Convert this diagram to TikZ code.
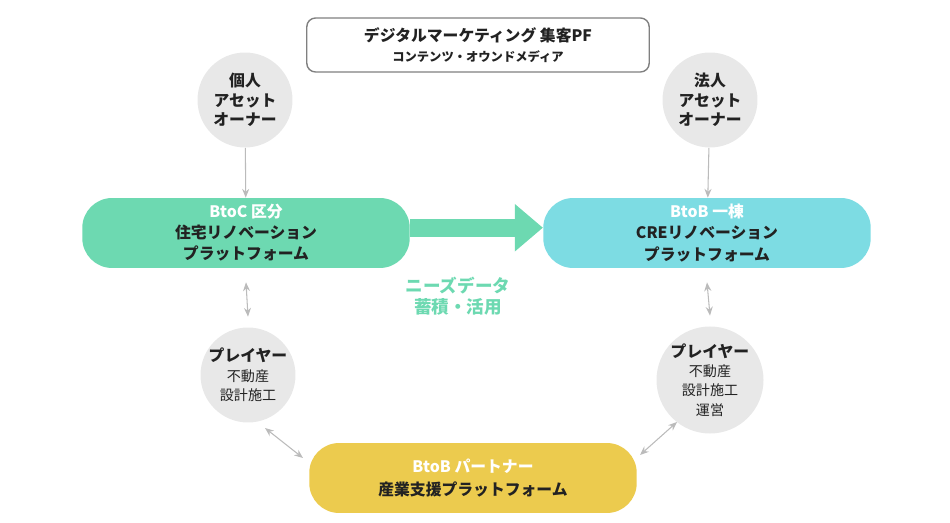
\documentclass[tikz,border=0pt]{standalone}
\usepackage{fontspec}
\setmainfont{Noto Sans CJK JP}
\usetikzlibrary{positioning,arrows.meta}
\definecolor{pfgreen}{HTML}{6DD9B1}
\definecolor{pfcyan}{HTML}{7DDCE3}
\definecolor{pfyellow}{HTML}{ECCB4E}
\definecolor{circgray}{HTML}{E8E8E8}
\definecolor{linegray}{HTML}{BBBBBB}
\definecolor{txtdark}{HTML}{222222}
\tikzset{
  pill/.style={rounded corners=17pt, minimum width=6.55cm, minimum height=1.4cm, align=center, text=txtdark, font=\bfseries\small},
  asset/.style={circle, fill=circgray, minimum size=1.9cm, align=center, text=txtdark, font=\bfseries\small, inner sep=0pt},
  link/.style={draw=linegray, line width=0.6pt, -{Stealth[length=5pt,width=4pt]}},
  twoway/.style={draw=linegray, line width=0.6pt, {Stealth[length=5pt,width=4pt]}-{Stealth[length=5pt,width=4pt]}}
}
\begin{document}
\begin{tikzpicture}[x=0.02cm,y=-0.02cm]
   \useasboundingbox (0,0) rectangle (950,523);
   \node[draw=gray, line width=0.8pt, rounded corners=5pt, minimum width=6.85cm, minimum height=1.08cm, align=center, text=txtdark] (media) at (478,45)
     {{\bfseries\small デジタルマーケティング 集客PF}\\[-1pt]{\bfseries\scriptsize コンテンツ・オウンドメディア}};

   \node[asset] (kojin) at (245,100) {個人\\アセット\\オーナー};
   \node[asset] (hojin) at (710,100) {法人\\アセット\\オーナー};

   \node[pill, fill=pfgreen] (btoc) at (246,233) {{\color{white}BtoC 区分}\\[1pt]住宅リノベーション\\[1pt]プラットフォーム};
   \node[pill, fill=pfcyan]  (btob) at (707,233) {{\color{white}BtoB 一棟}\\[1pt]CREリノベーション\\[1pt]プラットフォーム};

   \node[asset] (playl) at (248,375) {プレイヤー\\{\mdseries\footnotesize 不動産}\\{\mdseries\footnotesize 設計施工}};
   \node[asset, minimum size=1.95cm] (playr) at (710,380) {プレイヤー\\{\mdseries\footnotesize 不動産}\\{\mdseries\footnotesize 設計施工}\\{\mdseries\footnotesize 運営}};

   \node[pill, fill=pfyellow] (partner) at (473,478) {{\color{white}BtoB パートナー}\\[2pt]産業支援プラットフォーム};

   \node[text=pfgreen, font=\bfseries, align=center] (needs) at (458,296) {ニーズデータ\\蓄積・活用};

   \draw[pfgreen, line width=10pt, -{Triangle[length=16pt,width=26pt]}] ([yshift=3pt]btoc.east) -- ([yshift=3pt]btob.west);
   \draw[link] (kojin) -- (btoc);
   \draw[link] (hojin) -- (btob);
   \draw[twoway] ([yshift=-8pt]btoc.south) -- ([yshift=6pt]playl.north);
   \draw[twoway] ([yshift=-8pt]btob.south) -- ([yshift=6pt]playr.north);
   \draw[twoway] (265,428) -- (303,458);
   \draw[twoway] (677,422) -- (640,455);
\end{tikzpicture}
\end{document}
